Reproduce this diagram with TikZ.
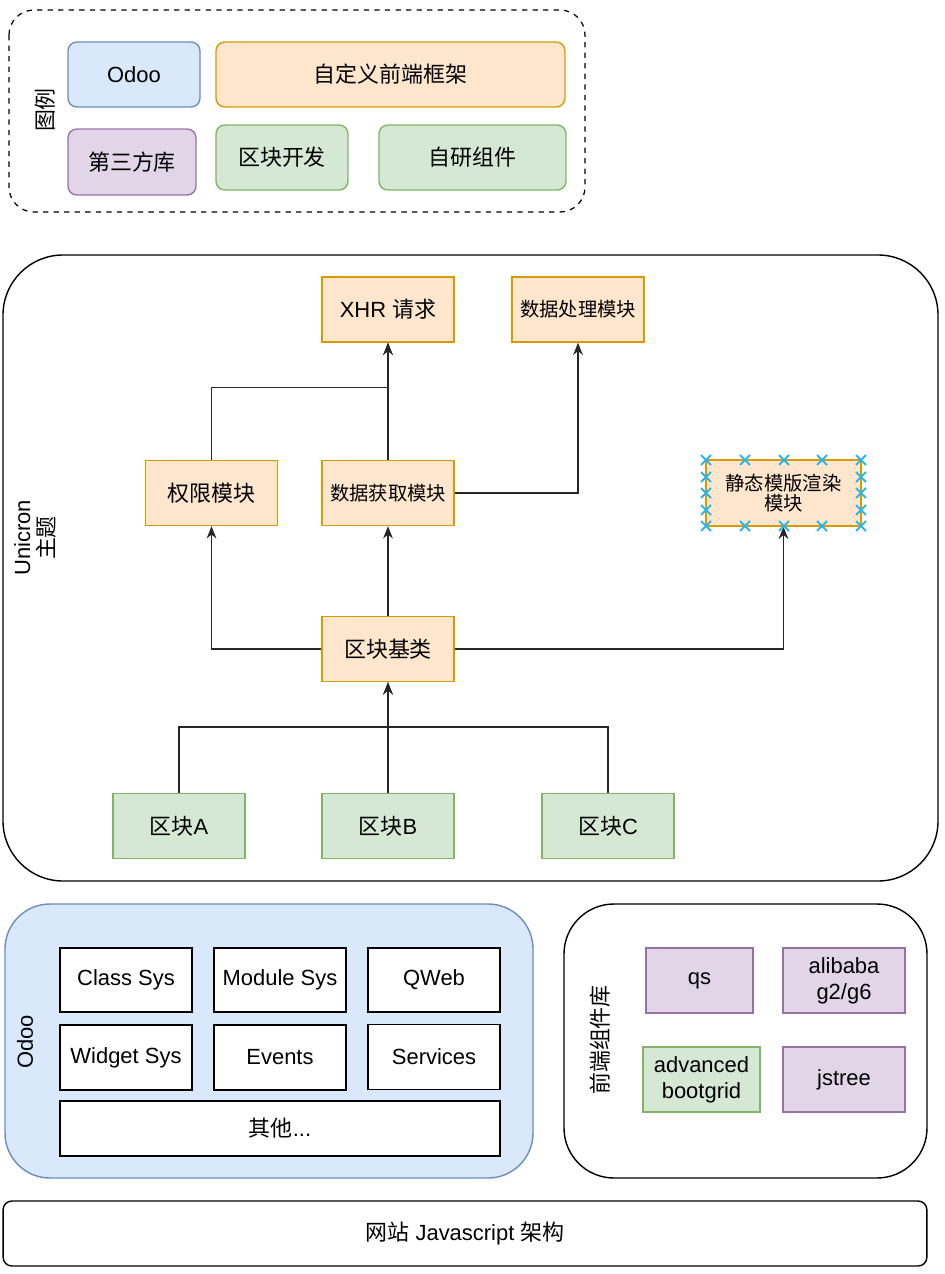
\documentclass[tikz,border=0pt]{standalone}
\usepackage{fontspec}
\setmainfont{Liberation Sans}
\newfontfamily\cjk{Noto Sans CJK SC}
\usepackage{tikz}
\usetikzlibrary{arrows.meta}
\definecolor{odooFill}{HTML}{DAE8FC}
\definecolor{odooLine}{HTML}{6C8EBF}
\definecolor{ownFill}{HTML}{FFE6CC}
\definecolor{ownLine}{HTML}{D79B00}
\definecolor{thirdFill}{HTML}{E1D5E7}
\definecolor{thirdLine}{HTML}{9673A6}
\definecolor{blockFill}{HTML}{D5E8D4}
\definecolor{blockLine}{HTML}{82B366}
\definecolor{handleBlue}{HTML}{29B6F2}
\newcommand{\zh}[1]{{\cjk #1}}
\tikzset{
box/.style = { rectangle, line width = 0.8pt, align = center, inner sep = 2pt, minimum width = 2.64cm, minimum height = 1.3cm, font = \fontsize{12.5}{15}\selectfont },
odoo box/.style = { box, draw = odooLine, fill = odooFill, rounded corners = 5pt },
own box/.style = { box, draw = ownLine, fill = ownFill },
third box/.style = { box, draw = thirdLine, fill = thirdFill },
block box/.style = { box, draw = blockLine, fill = blockFill },
sys box/.style = { box, draw = black, fill = white },
side label/.style = { rotate = 90, align = center, font = \fontsize{12.5}{13.6}\selectfont },
link/.style = { line width = 0.8pt, draw = black!85 },
arr/.style = { link, -{Stealth[length = 7pt, width = 5.5pt]} },
}
\tikzset{
pics/handle/.style = {
        code = {
        \draw[handleBlue, line width = 1.1pt] (-5, -5) -- (5, 5) (-5, 5) -- (5, -5);
        }
    }
}
\begin{document}
\begin{tikzpicture}[x = 0.02cm, y = -0.02cm]
    \useasboundingbox (0, 0) rectangle (944, 1274);
    % legend
    \draw[dashed, line width = 0.7pt, rounded corners = 0.5cm] (9, 10) rectangle (585, 212);
    \node[side label] (lgTitle) at (45, 110) {\zh{图例}};
    \node[odoo box] (lgOdoo) at (134, 74.5) {Odoo};
    \node[own box, rounded corners = 5pt, minimum width = 6.98cm] (lgOwn) at (390.5, 74.5) {\zh{自定义前端框架}};
    \node[third box, rounded corners = 5pt, minimum width = 2.56cm, minimum height = 1.32cm] (lgThird) at (132, 162) {\zh{第三方库}};
    \node[block box, rounded corners = 5pt] (lgBlock) at (282, 157.5) {\zh{区块开发}};
    \node[block box, rounded corners = 5pt, minimum width = 3.74cm] (lgComp) at (472.5, 157.5) {\zh{自研组件}};
    % unicron theme
    \draw[line width = 0.8pt, rounded corners = 1.2cm] (3, 255) rectangle (938, 881);
    \node[side label] (themeTitle) at (35, 538) {Unicron\\\zh{主题}};
    \node[own box] (xhr) at (388, 309.5) {XHR \zh{请求}};
    \node[own box, font = \fontsize{11}{13}\selectfont] (proc) at (578, 309.5) {\zh{数据处理模块}};
    \node[own box] (auth) at (211.5, 493) {\zh{权限模块}};
    \node[own box, font = \fontsize{11}{13}\selectfont] (fetch) at (388, 493) {\zh{数据获取模块}};
    \node[own box, minimum width = 3.1cm, minimum height = 1.32cm, font = \fontsize{11}{11.6}\selectfont] (render) at (783.5, 493) {\zh{静态模版渲染}\\\zh{模块}};
    \node[own box] (base) at (388, 649) {\zh{区块基类}};
    \node[block box] (blockA) at (179, 826) {\zh{区块}A};
    \node[block box] (blockB) at (388, 826) {\zh{区块}B};
    \node[block box] (blockC) at (608, 826) {\zh{区块}C};
    \draw[arr] (auth.north) |- ([yshift = -0.9cm]xhr.south) -- (xhr.south);
    \draw[arr] (fetch.north) -- (xhr.south);
    \draw[arr] (fetch.east) -| (proc.south);
    \draw[arr] (base.west) -| (auth.south);
    \draw[arr] (base.north) -- (fetch.south);
    \draw[arr] (base.east) -| (render.south);
    \draw[arr] (blockA.north) |- ([yshift = -0.9cm]base.south) -- (base.south);
    \draw[arr] (blockB.north) -- (base.south);
    \draw[link] (blockC.north) |- ([yshift = -0.9cm]base.south);
    % selection handles
    \foreach \hx in {706, 745, 784, 822, 861} {
        \pic at (\hx, 460) {handle};
        \pic at (\hx, 526) {handle};
    }
    \foreach \hy in {477, 493, 510} {
        \pic at (706, \hy) {handle};
        \pic at (861, \hy) {handle};
    }
    % odoo
    \draw[draw = odooLine, fill = odooFill, line width = 0.8pt, rounded corners = 0.9cm] (5, 904) rectangle (533, 1178);
    \node[side label] (odooTitle) at (25, 1042) {Odoo};
    \node[sys box, minimum height = 1.28cm] (classSys) at (126, 980) {Class Sys};
    \node[sys box, minimum height = 1.28cm] (moduleSys) at (280, 980) {Module Sys};
    \node[sys box, minimum height = 1.28cm] (qweb) at (434, 980) {QWeb};
    \node[sys box] (widgetSys) at (126, 1057.5) {Widget Sys};
    \node[sys box] (events) at (280, 1057.5) {Events};
    \node[sys box] (services) at (434, 1057) {Services};
    \node[sys box, minimum width = 8.8cm, minimum height = 1.1cm] (others) at (280, 1128.5) {\zh{其他}...};
    % front-end libraries
    \draw[line width = 0.8pt, rounded corners = 1cm] (564, 904) rectangle (927, 1178);
    \node[side label] (libTitle) at (600, 1040) {\zh{前端组件库}};
    \node[third box, minimum width = 2.14cm] (qs) at (699.5, 980.5) {qs};
    \node[third box, minimum width = 2.44cm] (alibaba) at (844, 980.5) {alibaba\\g2/g6};
    \node[block box, minimum width = 2.34cm] (bootgrid) at (701.5, 1079.5) {advanced\\bootgrid};
    \node[third box, minimum width = 2.44cm] (jstree) at (844, 1079.5) {jstree};
    % site
    \node[box, draw = black, rounded corners = 5pt, minimum width = 18.48cm] (site) at (465, 1233.5) {\zh{网站} Javascript \zh{架构}};
\end{tikzpicture}
\end{document}
